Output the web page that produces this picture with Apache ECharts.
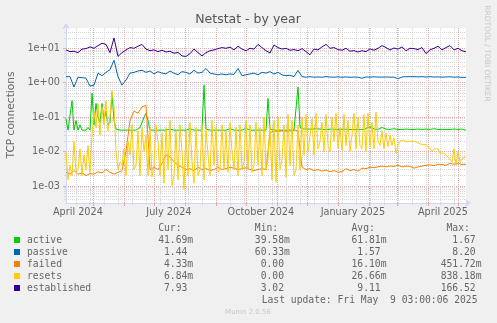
<!DOCTYPE html>
<html><head><meta charset="utf-8">
<script src="https://cdn.jsdelivr.net/npm/echarts@6/dist/echarts.min.js"></script>
<style>html,body{margin:0;padding:0;background:#F0F0F0;}#c{width:497px;height:323px;}</style>
</head><body><div id="c"></div>
<script>
// ---- time frame ----
const START = Date.UTC(2024, 3, 4, 3, 0, 0);
const DAY = 86400000;
const SPAN_DAYS = 400;
const END = START + SPAN_DAYS * DAY;

// ---- series values (4-day step) ----
const established = [
  9, 8, 8.2, 7.5, 9.5, 9.8, 11, 10, 12, 14,
  13, 7.5, 20, 5.8, 7.5, 9, 10.5, 10, 11.5, 13,
  9.5, 8.5, 9, 8, 8.8, 7.8, 8.2, 7.2, 7.6, 6,
  5.8, 7, 9.5, 7.5, 6, 7.5, 8.5, 9, 9.8, 10.5,
  10, 10.8, 9, 11.5, 9.5, 8.5, 10, 9.5, 13, 10.5,
  8.5, 7.3, 12.5, 10.5, 9.5, 10, 8.8, 9.2, 8.5, 9.8,
  8, 6.5, 9.5, 9, 11, 13, 10, 10.5, 9.2, 8.8,
  10, 8.2, 8.6, 7.8, 8.5, 8, 9.6, 8.8, 10, 12,
  10.5, 9, 10.2, 9.5, 11, 8.5, 10, 9.8, 9.2, 10.5,
  7, 9, 10, 11.5, 9, 10.5, 12, 9, 10, 8.5,
  7.9
];
const passive = [
  1.5, 1.5, 0.75, 1.45, 1.4, 1.35, 0.8, 0.85, 1.9, 1.6,
  2.0, 2.4, 4.5, 1.5, 0.85, 1.2, 1.9, 2.0, 2.2, 2.3,
  2.0, 2.2, 1.8, 2.1, 1.9, 1.8, 2.2, 1.9, 1.7, 2.1,
  2.0, 1.8, 2.3, 1.9, 2.0, 2.6, 1.9, 1.8, 1.7, 1.8,
  1.7, 1.8, 1.75, 2.6, 1.6, 1.7, 1.8, 1.9, 1.7, 2.0,
  1.9, 2.1, 1.8, 2.0, 1.7, 1.6, 1.65, 1.5, 2.3, 1.5,
  1.45, 1.5, 1.45, 1.47, 1.45, 1.5, 1.46, 1.45, 1.48, 1.45,
  1.47, 1.44, 1.46, 1.45, 1.35, 1.47, 1.45, 1.48, 1.46, 1.45,
  1.47, 1.45, 1.46, 1.3, 1.47, 1.5, 1.5, 1.5, 1.48, 1.5,
  1.47, 1.5, 1.46, 1.48, 1.45, 1.47, 1.48, 1.45, 1.47, 1.43,
  1.44
];
const failed = [
  0.0025, 0.0022, 0.0028, 0.0022, 0.0024, 0.002, 0.0023, 0.0022, 0.0026, 0.0024,
  0.003, 0.0025, 0.0022, 0.0025, 0.0028, 0.01, 0.08, 0.15, 0.13, 0.2,
  0.22, 0.003, 0.0035, 0.003, 0.0045, 0.008, 0.007, 0.005, 0.004, 0.0035,
  0.003, 0.0032, 0.0028, 0.0035, 0.003, 0.0032, 0.0028, 0.003, 0.0035, 0.003,
  0.0032, 0.0035, 0.0033, 0.003, 0.0032, 0.0034, 0.003, 0.0028, 0.003, 0.0032,
  0.003, 0.035, 0.04, 0.038, 0.04, 0.039, 0.04, 0.042, 0.04, 0.0035,
  0.003, 0.0032, 0.0028, 0.003, 0.0027, 0.0029, 0.0026, 0.0028, 0.0025, 0.0026,
  0.0032, 0.0028, 0.003, 0.0027, 0.0033, 0.0032, 0.0035, 0.0034, 0.0036, 0.0038,
  0.0036, 0.0038, 0.0037, 0.004, 0.0036, 0.0038, 0.0037, 0.0033, 0.0036, 0.0038,
  0.004, 0.0041, 0.0039, 0.0043, 0.0042, 0.004, 0.0045, 0.0043, 0.0046, 0.0042,
  0.0043
];
// ---- series values (2-day step) ----
const active = [
  0.09, 0.042, 0.045, 0.3, 0.042, 0.08, 0.042, 0.06, 0.042, 0.045,
  0.042, 0.05, 0.042, 0.5, 0.06, 0.25, 0.1, 0.07, 0.25, 0.08,
  0.15, 0.06, 0.07, 0.5, 0.08, 0.045, 0.042, 0.042, 0.042, 0.042,
  0.042, 0.042, 0.042, 0.042, 0.042, 0.042, 0.042, 0.05, 0.07, 0.1,
  0.13, 0.08, 0.042, 0.042, 0.042, 0.042, 0.042, 0.042, 0.042, 0.042,
  0.042, 0.042, 0.045, 0.042, 0.042, 0.042, 0.042, 0.042, 0.042, 0.042,
  0.042, 0.042, 0.046, 0.042, 0.042, 0.042, 0.042, 0.042, 0.042, 0.85,
  0.045, 0.042, 0.042, 0.042, 0.042, 0.042, 0.042, 0.042, 0.042, 0.042,
  0.042, 0.042, 0.046, 0.042, 0.042, 0.042, 0.042, 0.042, 0.042, 0.042,
  0.047, 0.042, 0.042, 0.045, 0.042, 0.042, 0.042, 0.042, 0.042, 0.042,
  0.042, 0.35, 0.045, 0.042, 0.042, 0.042, 0.042, 0.042, 0.042, 0.047,
  0.042, 0.042, 0.042, 0.042, 0.042, 0.042, 0.75, 0.05, 0.045, 0.045,
  0.044, 0.045, 0.044, 0.045, 0.044, 0.046, 0.044, 0.045, 0.044, 0.044,
  0.045, 0.044, 0.044, 0.045, 0.044, 0.044, 0.045, 0.044, 0.044, 0.045,
  0.044, 0.044, 0.045, 0.044, 0.044, 0.044, 0.045, 0.044, 0.044, 0.044,
  0.045, 0.05, 0.044, 0.052, 0.045, 0.05, 0.044, 0.045, 0.05, 0.044,
  0.045, 0.05, 0.044, 0.044, 0.046, 0.044, 0.044, 0.045, 0.044, 0.044,
  0.045, 0.044, 0.044, 0.046, 0.044, 0.044, 0.045, 0.044, 0.044, 0.044,
  0.045, 0.044, 0.044, 0.044, 0.046, 0.044, 0.044, 0.045, 0.044, 0.044,
  0.044, 0.045, 0.044, 0.044, 0.045, 0.044, 0.044, 0.044, 0.045, 0.044,
  0.0417
];
const resets = [
  0.01, 0.0015, 0.004, 0.002, 0.02, 0.0025, 0.003, 0.012, 0.002, 0.008,
  0.003, 0.015, 0.0025, 0.03, 0.15, 0.05, 0.25, 0.03, 0.2, 0.06,
  0.3, 0.04, 0.1, 0.6, 0.2, 0.01, 0.003, 0.005, 0.004, 0.012,
  0.002, 0.02, 0.008, 0.06, 0.003, 0.004, 0.04, 0.002, 0.05, 0.01,
  0.03, 0.002, 0.05, 0.0018, 0.004, 0.06, 0.02, 0.002, 0.035, 0.0012,
  0.05, 0.003, 0.08, 0.001, 0.002, 0.04, 0.0015, 0.06, 0.01, 0.0008,
  0.04, 0.002, 0.07, 0.005, 0.0012, 0.05, 0.002, 0.003, 0.06, 0.0015,
  0.045, 0.008, 0.002, 0.08, 0.004, 0.05, 0.0025, 0.003, 0.06, 0.003,
  0.04, 0.0025, 0.07, 0.01, 0.003, 0.05, 0.002, 0.06, 0.003, 0.005,
  0.08, 0.003, 0.06, 0.0025, 0.004, 0.07, 0.004, 0.05, 0.002, 0.1,
  0.003, 0.006, 0.06, 0.0015, 0.08, 0.0013, 0.1, 0.003, 0.006, 0.06,
  0.0018, 0.12, 0.004, 0.08, 0.002, 0.003, 0.06, 0.003, 0.1, 0.008,
  0.12, 0.01, 0.03, 0.09, 0.008, 0.13, 0.012, 0.02, 0.07, 0.01,
  0.12, 0.015, 0.01, 0.1, 0.02, 0.13, 0.012, 0.05, 0.011, 0.12,
  0.015, 0.08, 0.01, 0.03, 0.13, 0.012, 0.1, 0.015, 0.012, 0.12,
  0.01, 0.13, 0.014, 0.07, 0.012, 0.14, 0.02, 0.015, 0.04, 0.012,
  0.035, 0.014, 0.03, 0.015, 0.025, 0.009, 0.015, 0.02, 0.018, 0.022,
  0.019, 0.021, 0.02, 0.018, 0.02, 0.019, 0.018, 0.019, 0.016, 0.017,
  0.016, 0.015, 0.012, 0.01, 0.012, 0.011, 0.012, 0.009, 0.008, 0.009,
  0.008, 0.007, 0.008, 0.005, 0.012, 0.004, 0.01, 0.005, 0.006, 0.007,
  0.0068
];

// ---- axis ticks / labels ----
const decadeTicks = [1e-3, 1e-2, 1e-1, 1, 10];
const tickLabelMonths = ['2024-04', '2024-07', '2024-10', '2025-01', '2025-04'];
const monthNames = ['January','February','March','April','May','June','July','August','September','October','November','December'];

// ---- legend table ----
const legendNames = ['active', 'passive', 'failed', 'resets', 'established'];
const curVals = ['41.69m', '1.44', '4.33m', '6.84m', '7.93'];
const minVals = ['39.58m', '60.33m', '0.00', '0.00', '3.02'];
const avgVals = ['61.81m', '1.57', '16.10m', '26.66m', '9.11'];
const maxVals = ['1.67', '8.20', '451.72m', '838.18m', '166.52'];
const lastUpdate = 'Last update: Fri May  9 03:00:06 2025';

// ---- styling ----
const colors = ['#00CC00', '#0066B3', '#FF8000', '#FFCC00', '#330099'];
const YMIN = Math.pow(10, -3.494);
const YMAX = Math.pow(10, 1.59);
const MAJ = '#EAA8A8', MIN = '#D6D6D6', AXIS = '#CFD6F8', FONT = '#666666';

// derived grid values
const monthStarts = [];
for (let k = 0; k <= 12; k++) monthStarts.push(Date.UTC(2024, 4 + k, 1));
const biweekly = [];
for (let t = Date.UTC(2024, 3, 14); t <= END; t += 14 * DAY) biweekly.push(t);
const labelDates = tickLabelMonths.map(s => { const [y, m] = s.split('-').map(Number); return Date.UTC(y, m - 1, 16); });
const minorY = [];
for (let e = -4; e <= 1; e++) for (let k = 2; k <= 9; k++) { const v = k * Math.pow(10, e); if (v > YMIN && v < YMAX) minorY.push(v); }

function toSeries(arr, stepDays) { return arr.map((v, i) => [START + i * stepDays * DAY, v]); }
function fmtExp(v) {
  const e = Math.round(Math.log10(v));
  return '1e' + (e < 0 ? '-' : '+') + String(Math.abs(e)).padStart(2, '0');
}
function fmtMonth(v) { const d = new Date(v); return monthNames[d.getUTCMonth()] + ' ' + d.getUTCFullYear(); }
function fmtVal(s) {
  const unit = /[a-zA-Z]$/.test(s) ? s.slice(-1) : ' ';
  const num = unit === ' ' ? s : s.slice(0, -1);
  return num.padStart(6, ' ') + unit;
}

const seriesDefs = [
  { name: 'active', data: toSeries(active, 2) },
  { name: 'passive', data: toSeries(passive, 4) },
  { name: 'failed', data: toSeries(failed, 4) },
  { name: 'resets', data: toSeries(resets, 2) },
  { name: 'established', data: toSeries(established, 4) }
];

const MONO = '"DejaVu Sans Mono", monospace';
const SANS = '"DejaVu Sans", sans-serif';
const graphic = [
  { type: 'text', x: 248, y: 19.7, style: { text: 'Netstat - by year', font: '12.5px ' + SANS, fill: '#555', textAlign: 'center', textVerticalAlign: 'middle' } },
  { type: 'text', x: 11, y: 115, rotation: Math.PI / 2, style: { text: 'TCP connections', font: '10.6px ' + SANS, fill: FONT, textAlign: 'center', textVerticalAlign: 'middle' } },
  { type: 'text', x: 487, y: 53.5, rotation: -Math.PI / 2, style: { text: 'RRDTOOL / TOBI OETIKER', font: '7.5px ' + SANS, fill: '#C8C8C8', textAlign: 'center', textVerticalAlign: 'middle' } },
  { type: 'text', x: 248, y: 312.3, style: { text: 'Munin 2.0.56', font: '7px ' + SANS, fill: '#C8C8C8', textAlign: 'center', textVerticalAlign: 'middle' } }
];
const colX = [152.3, 249, 345.7, 440.7];
const headers = ['Cur:', 'Min:', 'Avg:', 'Max:'];
const CW = 5.84;
headers.forEach((h, j) => graphic.push({ type: 'text', x: colX[j] + CW, y: 228, style: { text: h, font: '9.7px ' + MONO, fill: FONT, textVerticalAlign: 'middle' } }));
const cols = [curVals, minVals, avgVals, maxVals];
legendNames.forEach((n, i) => {
  const cy = 240 + i * 12;
  graphic.push({ type: 'rect', shape: { x: 14, y: cy - 3, width: 6, height: 6 }, style: { fill: colors[i] } });
  graphic.push({ type: 'text', x: 27, y: cy, style: { text: n, font: '9.7px ' + MONO, fill: FONT, textVerticalAlign: 'middle' } });
  cols.forEach((c, j) => graphic.push({ type: 'text', x: colX[j], y: cy, style: { text: fmtVal(c[i]), font: '9.7px ' + MONO, fill: FONT, textVerticalAlign: 'middle' } }));
});
graphic.push({ type: 'text', x: 261.7, y: 300, style: { text: lastUpdate, font: '9.7px ' + MONO, fill: FONT, textVerticalAlign: 'middle' } });

const chart = echarts.init(document.getElementById('c'), null, { renderer: 'canvas' });
chart.setOption({
  backgroundColor: '#F0F0F0',
  animation: false,
  grid: { left: 66, right: 31, top: 28, bottom: 120, show: true, backgroundColor: '#FFFFFF', borderWidth: 0 },
  xAxis: [
    { type: 'value', position: 'bottom', min: START, max: END, scale: true,
      axisLine: { show: false }, axisLabel: { show: false },
      axisTick: { show: true, customValues: biweekly, length: 2, lineStyle: { color: MIN } },
      splitLine: { show: true, lineStyle: { color: MIN, type: [1, 1], width: 1 } } },
    { type: 'value', position: 'bottom', min: START, max: END, scale: true,
      axisLine: { show: true, onZero: false, lineStyle: { color: AXIS, width: 1 }, symbol: ['none', 'arrow'], symbolSize: [6, 6], symbolOffset: [0, 5] },
      axisTick: { show: true, customValues: monthStarts, length: 3, lineStyle: { color: MAJ } },
      axisLabel: { show: true, customValues: labelDates, formatter: fmtMonth, color: FONT, fontFamily: SANS, fontSize: 9.7, margin: 4, hideOverlap: false },
      splitLine: { show: true, lineStyle: { color: MAJ, type: [1, 1], width: 1 } } }
  ],
  yAxis: [
    { type: 'log', logBase: 10, position: 'left', min: YMIN, max: YMAX,
      axisLine: { show: false }, axisLabel: { show: false },
      axisTick: { show: true, customValues: minorY, length: 2, lineStyle: { color: MIN } },
      splitLine: { show: true, lineStyle: { color: MIN, type: [1, 1], width: 1 } } },
    { type: 'log', logBase: 10, position: 'left', min: YMIN, max: YMAX,
      axisLine: { show: true, onZero: false, lineStyle: { color: AXIS, width: 1 }, symbol: ['none', 'arrow'], symbolSize: [6, 6], symbolOffset: [0, 5] },
      axisTick: { show: true, customValues: decadeTicks, length: 3, lineStyle: { color: MAJ } },
      axisLabel: { show: true, customValues: decadeTicks, formatter: fmtExp, color: FONT, fontFamily: SANS, fontSize: 9.7, margin: 6 },
      splitLine: { show: true, lineStyle: { color: MAJ, type: [1, 1], width: 1 } } }
  ],
  series: seriesDefs.map((s, i) => ({
    name: s.name, type: 'line', xAxisIndex: 1, yAxisIndex: 1, data: s.data,
    showSymbol: false, symbol: 'none', lineStyle: { width: 1, color: colors[i] }, itemStyle: { color: colors[i] }, z: 2 + i
  })),
  graphic: graphic
});
</script></body></html>
